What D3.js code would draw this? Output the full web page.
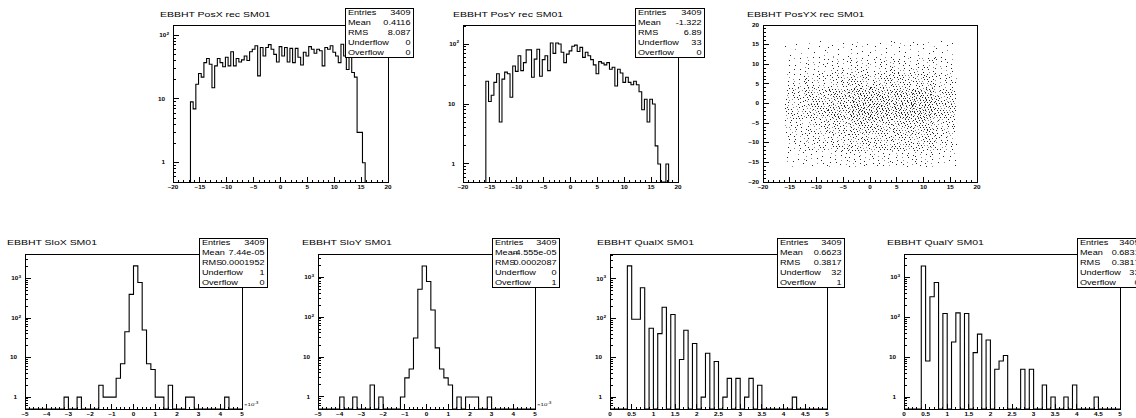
<!DOCTYPE html>
<html>
<head>
<meta charset="utf-8">
<title>EBBHT SM01</title>
<script src="https://d3js.org/d3.v7.min.js"></script>
<style>
  body { margin: 0; background: #fff; }
  svg { display: block; }
  text { font-family: "Liberation Sans", Arial, sans-serif; fill: #000; }
</style>
</head>
<body>
<div id="canvas"></div>
<script>
// ---- data ----
// PosX / PosY: 0.5 wide bins, value = first low edge
const posXStart = -16.75;
const posXCounts = [9,7,17,25,22,37,43,35,15,33, 43,37,32,45,33,55,33,43,38,41,
  47,40,55,60,68,23,64,47,64,71, 60,50,38,66,47,64,38,62,37,62,
  45,34,54,47,66,60,52,60,57,33, 64,60,68,54,47,37,72,47,29,64,
  26,22,3,3,1];
const posYStart = -15.75;
const posYCounts = [24,11,14,23,32,5,26,34,32,13, 43,35,64,36,49,80,80,28,56,82,
  29,55,64,36,104,70,104,100,73,49, 68,77,92,96,75,88,60,73,64,55,
  45,32,51,48,45,49,38,41,20,38, 33,23,28,23,21,24,21,16,8,12,
  5,12,10,2,1,0,0,1];

// PosYX: counts in 4x4 cells, x from -16 to 16 (columns), y rows from 16 down to -16
const posYXEdgesX = [-16,-12,-8,-4,0,4,8,12,16];
const posYXEdgesY = [16,12,8,4,0,-4,-8,-12,-16];
const posYXCounts = [
  [ 8,10,12,15,14,15,16,10],
  [18,25,30,38,36,37,38,25],
  [30,42,50,65,60,62,65,40],
  [50,70,85,110,100,105,108,70],
  [55,75,92,118,110,115,118,75],
  [38,50,62,80,74,78,80,50],
  [30,42,50,66,60,63,65,42],
  [15,20,25,32,30,30,32,18]
];

// SloX / SloY: 50 bins of 0.2 (x10^-3) from -5
const sloXCounts = [0,0,0,0,0,0,0,0,0,1, 0,0,1,0,0,0,0,2,1,1,
  1,3,7,45,400,2100,800,50,7,5, 1,1,0,2,0,0,0,1,1,0, 0,0,0,0,0,0,1,0,0,0];
const sloYCounts = [0,0,0,0,0,1,0,0,1,0, 0,0,2,0,1,0,0,0,0,1,
  3,5,30,500,1900,780,150,17,5,3, 2,0,1,0,1,1,1,0,0,1, 0,0,0,0,0,0,0,0,0,0];

// QualX / QualY: 50 bins of 0.1 from 0
const qualXCounts = [0,0,0,0,2150,95,95,600,0,56, 0,41,192,0,125,0,9,50,0,23,
  0,1,13,0,8,0,1,3,0,3, 0,1,3,0,2,0,0,0,0,0, 0,0,1,0,0,0,0,0,0,0];
const qualYCounts = [0,0,0,0,1950,8,330,750,0,125, 0,24,130,0,125,0,13,38,0,27,
  0,5,8,11,0,0,0,5,0,5, 0,0,2,0,1,0,0,1,0,2, 0,0,0,0,1,0,0,0,0,0];

const statNames = ["Entries", "Mean", "RMS", "Underflow", "Overflow"];
const posXStats  = ["3409", "0.4116", "8.087", "0", "0"];
const posYStats  = ["3409", "-1.322", "6.89", "33", "0"];
const sloXStats  = ["3409", "7.44e-05", "0.0001952", "1", "0"];
const sloYStats  = ["3409", "-4.555e-05", "0.0002087", "0", "1"];
const qualXStats = ["3409", "0.6623", "0.3817", "32", "1"];
const qualYStats = ["3409", "0.6831", "0.3817", "33", "0"];

// ---- canvas ----
const W = 1136, H = 418;
const SX = 1.38;   // the picture is wider than tall: glyphs are stretched sideways
const svg = d3.select("#canvas").append("svg")
  .attr("width", W).attr("height", H);
svg.append("rect").attr("width", W).attr("height", H).attr("fill", "#fff");

let clipId = 0;

function txt(parent, x, y, str, size, anchor, bold) {
  return parent.append("text")
    .attr("transform", `translate(${x},${y}) scale(${SX},1)`)
    .attr("font-size", size)
    .attr("text-anchor", anchor || "start")
    .attr("font-weight", bold ? "bold" : null)
    .text(str);
}

function makeFrame(f) {
  const g = svg.append("g");
  const id = "clip" + (clipId++);
  svg.append("clipPath").attr("id", id)
    .append("rect").attr("x", f.x0).attr("y", f.y0)
    .attr("width", f.x1 - f.x0).attr("height", f.y1 - f.y0);
  g.clip = id;
  return g;
}

function xAxis(g, f, x, major, minor, fmt) {
  const [d0, d1] = x.domain();
  const n = Math.round((d1 - d0) / minor);
  for (let i = 0; i <= n; i++) {
    const v = d0 + i * minor;
    const isMajor = Math.abs(v / major - Math.round(v / major)) < 1e-6;
    g.append("line")
      .attr("x1", x(v)).attr("x2", x(v))
      .attr("y1", f.y1).attr("y2", f.y1 - (isMajor ? 5 : 2.5))
      .attr("stroke", "#000").attr("shape-rendering", "crispEdges");
    if (isMajor) txt(g, x(v), f.y1 + 6.5, fmt(v), 4.6, "middle", true);
  }
}

function yAxisLin(g, f, y, major, minor) {
  const [d0, d1] = y.domain();
  const n = Math.round((d1 - d0) / minor);
  for (let i = 0; i <= n; i++) {
    const v = d0 + i * minor;
    const isMajor = Math.abs(v / major - Math.round(v / major)) < 1e-6;
    g.append("line")
      .attr("x1", f.x0).attr("x2", f.x0 + (isMajor ? 6 : 3))
      .attr("y1", y(v)).attr("y2", y(v))
      .attr("stroke", "#000").attr("shape-rendering", "crispEdges");
    if (isMajor) txt(g, f.x0 - 4, y(v) + 1.7, d3.format("d")(v), 4.6, "end", true);
  }
}

function yAxisLog(g, f, y) {
  const [d0, d1] = y.domain();
  const e0 = Math.floor(Math.log10(d0)), e1 = Math.ceil(Math.log10(d1));
  for (let e = e0; e <= e1; e++) {
    for (let m = 1; m <= 9; m++) {
      const v = m * Math.pow(10, e);
      if (v < d0 || v > d1) continue;
      g.append("line")
        .attr("x1", f.x0).attr("x2", f.x0 + (m === 1 ? 6 : 3))
        .attr("y1", y(v)).attr("y2", y(v))
        .attr("stroke", "#000").attr("shape-rendering", "crispEdges");
      if (m === 1) {
        if (e <= 1) {
          txt(g, f.x0 - 8, y(v) + 1.7, e === 0 ? "1" : "10", 4.6, "end", true);
        } else {
          const t = txt(g, f.x0 - 4, y(v) + 1.7, "10", 4.6, "end", true);
          t.append("tspan").attr("dy", -2.3).attr("font-size", 3.4).text(e);
        }
      }
    }
  }
}

function histPath(x, y, start, width, counts, yBottom) {
  const p = d3.path();
  const yv = c => c > 0 ? y(c) : yBottom;
  p.moveTo(x(start), yBottom);
  counts.forEach((c, i) => {
    p.lineTo(x(start + i * width), yv(c));
    p.lineTo(x(start + (i + 1) * width), yv(c));
  });
  p.lineTo(x(start + counts.length * width), yBottom);
  return p.toString();
}

function statsBox(b, values) {
  const g = svg.append("g");
  g.append("rect").attr("x", b.x0 + 0.5).attr("y", b.y0 + 0.5)
    .attr("width", b.x1 - b.x0).attr("height", b.y1 - b.y0)
    .attr("fill", "#fff").attr("stroke", "#000");
  const row = (b.y1 - b.y0) / statNames.length;
  statNames.forEach((name, i) => {
    const yy = b.y0 + row * i + row * 0.5 + 2.4;
    txt(g, b.x0 + 3, yy, name, 6.6, "start");
    txt(g, b.x1 - 2.5, yy, values[i], 6.6, "end");
  });
}

function histPanel(p) {
  const f = p.frame;
  const g = makeFrame(f);
  const x = d3.scaleLinear().domain(p.xDomain).range([f.x0, f.x1]);
  const ymax = 2 * d3.max(p.counts);
  const y = d3.scaleLog().domain([0.5, ymax]).range([f.y1, f.y0]);
  g.append("path")
    .attr("d", histPath(x, y, p.start, p.width, p.counts, f.y1))
    .attr("fill", "none").attr("stroke", "#000").attr("stroke-width", 1.1)
    .attr("clip-path", "url(#" + g.clip + ")");
  g.append("rect").attr("x", f.x0 + 0.5).attr("y", f.y0 + 0.5)
    .attr("width", f.x1 - f.x0).attr("height", f.y1 - f.y0)
    .attr("fill", "none").attr("stroke", "#000");
  xAxis(g, f, x, p.major, p.minor, p.fmt);
  yAxisLog(g, f, y);
  txt(svg, p.title[0], p.title[1], p.title[2], 7.6, "start");
  if (p.exp) {
    const t = txt(svg, f.x1 + 2, f.y1 - 3, "\u00d710", 4.4, "start");
    t.append("tspan").attr("dy", -2.2).attr("font-size", 3.4).text("-3");
  }
  statsBox(p.box, p.stats);
}

const fmtInt = d3.format("d");
const fmtHalf = v => Math.abs(v - Math.round(v)) < 1e-6 ? String(Math.round(v)) : v.toFixed(1);

histPanel({ frame: {x0: 173, y0: 25, x1: 388, y1: 182}, xDomain: [-20, 20],
  start: posXStart, width: 0.5, counts: posXCounts, major: 5, minor: 1, fmt: fmtInt,
  title: [160, 17, "EBBHT PosX rec SM01"], box: {x0: 345, y0: 8, x1: 413, y1: 57}, stats: posXStats });
histPanel({ frame: {x0: 463, y0: 25, x1: 678, y1: 182}, xDomain: [-20, 20],
  start: posYStart, width: 0.5, counts: posYCounts, major: 5, minor: 1, fmt: fmtInt,
  title: [453, 17, "EBBHT PosY rec SM01"], box: {x0: 635, y0: 8, x1: 704, y1: 57}, stats: posYStats });

histPanel({ frame: {x0: 25, y0: 254, x1: 242, y1: 409}, xDomain: [-5, 5],
  start: -5, width: 0.2, counts: sloXCounts, major: 1, minor: 0.2, fmt: fmtInt, exp: true,
  title: [7, 245, "EBBHT SloX SM01"], box: {x0: 199, y0: 238, x1: 267, y1: 287}, stats: sloXStats });
histPanel({ frame: {x0: 318, y0: 254, x1: 535, y1: 409}, xDomain: [-5, 5],
  start: -5, width: 0.2, counts: sloYCounts, major: 1, minor: 0.2, fmt: fmtInt, exp: true,
  title: [302, 245, "EBBHT SloY SM01"], box: {x0: 492, y0: 238, x1: 559, y1: 287}, stats: sloYStats });
histPanel({ frame: {x0: 610, y0: 254, x1: 827, y1: 409}, xDomain: [0, 5],
  start: 0, width: 0.1, counts: qualXCounts, major: 0.5, minor: 0.1, fmt: fmtHalf,
  title: [597, 245, "EBBHT QualX SM01"], box: {x0: 777, y0: 238, x1: 844, y1: 287}, stats: qualXStats });
histPanel({ frame: {x0: 904, y0: 254, x1: 1120, y1: 409}, xDomain: [0, 5],
  start: 0, width: 0.1, counts: qualYCounts, major: 0.5, minor: 0.1, fmt: fmtHalf,
  title: [887, 245, "EBBHT QualY SM01"], box: {x0: 1077, y0: 238, x1: 1142, y1: 287}, stats: qualYStats });

// ---- PosYX scatter ----
(function () {
  const f = {x0: 763, y0: 25, x1: 977, y1: 182};
  const g = makeFrame(f);
  const x = d3.scaleLinear().domain([-20, 20]).range([f.x0, f.x1]);
  const y = d3.scaleLinear().domain([-20, 20]).range([f.y1, f.y0]);
  // like ROOT's "scatter" option: markers per cell scale with the content,
  // spread inside the cell on a low-discrepancy pattern
  const markersPerEntry = 0.65;
  const pts = [];
  posYXCounts.forEach((row, r) => {
    row.forEach((n, c) => {
      const xa = posYXEdgesX[c], xb = posYXEdgesX[c + 1];
      const ya = posYXEdgesY[r + 1], yb = posYXEdgesY[r];
      const s = (r * 8 + c) * 0.618;
      const m = Math.round(n * markersPerEntry);
      for (let k = 0; k < m; k++) {
        const u = (s + 0.5 + k * 0.7548776662) % 1;
        const w = (s * 1.7 + 0.5 + k * 0.5698402910) % 1;
        pts.push([xa + u * (xb - xa), ya + w * (yb - ya)]);
      }
    });
  });
  g.selectAll("rect.pt").data(pts).enter().append("rect")
    .attr("class", "pt")
    .attr("x", d => Math.round(x(d[0]))).attr("y", d => Math.round(y(d[1])))
    .attr("width", 1).attr("height", 1).attr("fill", "#000")
    .attr("fill-opacity", (d, i) => i % 3 === 0 ? 0.45 : 0.85);
  g.append("rect").attr("x", f.x0 + 0.5).attr("y", f.y0 + 0.5)
    .attr("width", f.x1 - f.x0).attr("height", f.y1 - f.y0)
    .attr("fill", "none").attr("stroke", "#000");
  xAxis(g, f, x, 5, 1, fmtInt);
  yAxisLin(g, f, y, 5, 1);
  txt(svg, 747, 17, "EBBHT PosYX rec SM01", 7.6, "start");
})();
</script>
</body>
</html>
